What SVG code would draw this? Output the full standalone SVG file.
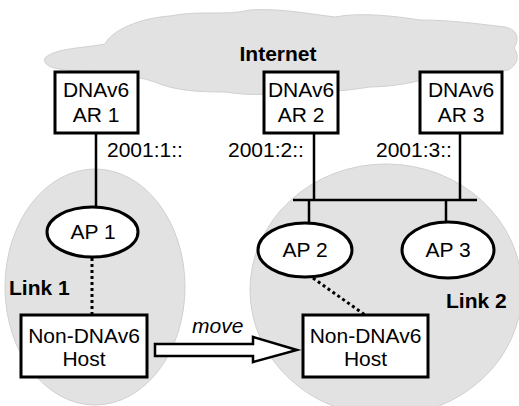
<svg xmlns="http://www.w3.org/2000/svg" width="519" height="406" viewBox="0 0 519 406">
<style>
.cloud{fill:#e2e2e2;stroke:#d0d0d0;stroke-width:1}
.box{fill:#fff;stroke:#000;stroke-width:3}
.ap{fill:#fff;stroke:#000;stroke-width:3}
.t{font-family:"Liberation Sans",Arial,sans-serif;font-size:21px;fill:#000}
.b{font-weight:bold}
.c{text-anchor:middle}
.ln{stroke:#000;stroke-width:2.5;fill:none}
.dot{stroke:#000;stroke-width:3;stroke-dasharray:3 3;fill:none}
</style>
<g id="internet-cloud">
<path class="cloud" d="M45,58 C55,48 85,48 105,44 C112,30 140,18 170,16 C200,10 225,16 250,10 C280,8 310,14 335,17 C360,12 395,16 420,20 C450,20 480,24 505,27 C519,30 519,40 514,48 C519,55 519,64 508,70 C490,74 470,73 440,76 C420,80 405,86 370,87 C350,90 330,93 300,90 C275,95 250,96 225,92 C200,92 175,91 155,82 C130,74 105,72 80,71 C60,70 42,68 45,58 Z"/>
<text class="t b c" x="278" y="61" font-size="20">Internet</text>
</g>
<g id="link1-area">
<ellipse class="cloud" cx="95" cy="287" rx="90" ry="118"/>
<text class="t b" x="9" y="295" font-size="20">Link 1</text>
</g>
<g id="link2-area">
<ellipse class="cloud" cx="386" cy="290" rx="136" ry="126"/>
<text class="t b" x="446" y="308" font-size="20">Link 2</text>
</g>
<g id="connectors">
<line class="ln" x1="96" y1="133" x2="96" y2="207"/>
<line class="ln" x1="314" y1="133" x2="314" y2="200"/>
<line class="ln" x1="460" y1="133" x2="460" y2="200"/>
<line class="ln" x1="293" y1="200" x2="477" y2="200" stroke-width="3"/>
<line class="ln" x1="309" y1="200" x2="309" y2="223"/>
<line class="ln" x1="446" y1="200" x2="446" y2="222"/>
<line class="dot" x1="92" y1="258" x2="92" y2="315"/>
<line class="dot" x1="313" y1="278" x2="365" y2="315"/>
<polygon points="155,344 253,344 253,337 297,350 253,362 253,356 155,356" fill="#fff" stroke="#000" stroke-width="2.5" stroke-linejoin="miter"/>
<text class="t" x="192" y="333" font-style="italic">move</text>
</g>
<g id="ar1">
<rect class="box" x="55" y="72" width="83" height="61"/>
<text class="t c" x="96" y="97">DNAv6</text>
<text class="t c" x="96" y="122">AR 1</text>
<text class="t" x="107" y="157">2001:1::</text>
</g>
<g id="ar2">
<rect class="box" x="264" y="72" width="74" height="61"/>
<text class="t c" x="301" y="97">DNAv6</text>
<text class="t c" x="301" y="122">AR 2</text>
<text class="t" x="228" y="157">2001:2::</text>
</g>
<g id="ar3">
<rect class="box" x="420" y="72" width="82" height="61"/>
<text class="t c" x="461" y="97">DNAv6</text>
<text class="t c" x="461" y="122">AR 3</text>
<text class="t" x="376" y="157">2001:3::</text>
</g>
<g id="ap1">
<ellipse class="ap" cx="92.5" cy="232" rx="45.5" ry="25"/>
<text class="t c" x="93" y="239">AP 1</text>
</g>
<g id="ap2">
<ellipse class="ap" cx="305" cy="250" rx="47" ry="27"/>
<text class="t c" x="305" y="257">AP 2</text>
</g>
<g id="ap3">
<ellipse class="ap" cx="448" cy="250" rx="46" ry="28"/>
<text class="t c" x="448" y="257">AP 3</text>
</g>
<g id="host1">
<rect class="box" x="21" y="315" width="126" height="62"/>
<text class="t c" x="84" y="343">Non-DNAv6</text>
<text class="t c" x="84" y="366">Host</text>
</g>
<g id="host2">
<rect class="box" x="303" y="315" width="125" height="62"/>
<text class="t c" x="365.5" y="343">Non-DNAv6</text>
<text class="t c" x="365.5" y="366">Host</text>
</g>
</svg>
